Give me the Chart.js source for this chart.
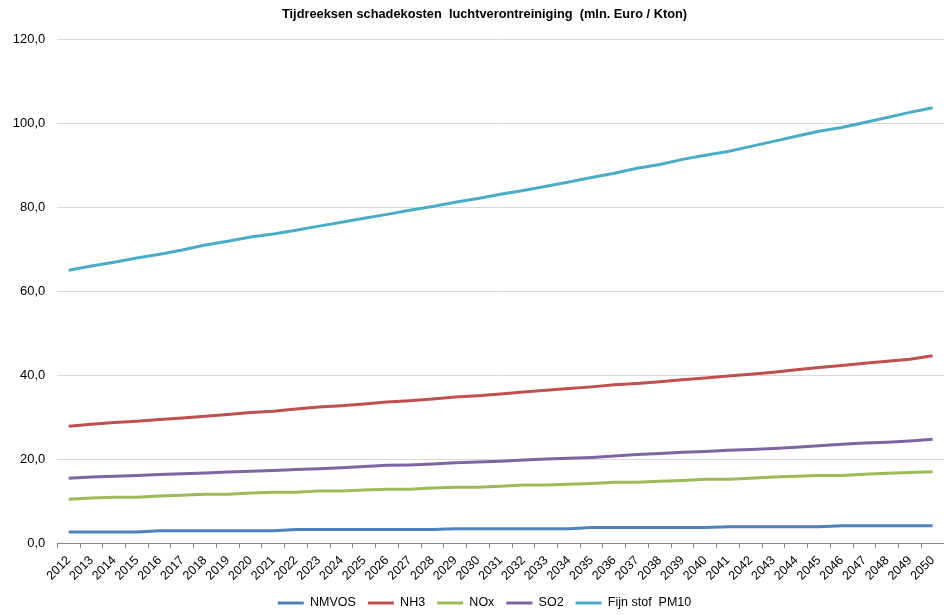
<!DOCTYPE html>
<html>
<head>
<meta charset="utf-8">
<script src="https://cdn.jsdelivr.net/npm/chart.js@4/dist/chart.umd.min.js"></script>
<style>
html,body{margin:0;padding:0;background:#fff;}
#wrap{width:944px;height:615px;position:relative;}
</style>
</head>
<body>
<div id="wrap"><canvas id="c" width="944" height="615"></canvas></div>
<script>
const years = [];
for (let y = 2012; y <= 2050; y++) years.push(String(y));

const nmvos = [2.6,2.6,2.6,2.6,2.9,2.9,2.9,2.9,2.9,2.9,3.2,3.2,3.2,3.2,3.2,3.2,3.2,3.4,3.4,3.4,3.4,3.4,3.4,3.7,3.7,3.7,3.7,3.7,3.7,3.9,3.9,3.9,3.9,3.9,4.1,4.1,4.1,4.1,4.1];
const nh3 = [27.8,28.3,28.7,29.0,29.4,29.8,30.2,30.6,31.1,31.4,31.9,32.4,32.7,33.1,33.6,33.9,34.3,34.8,35.1,35.5,36.0,36.4,36.8,37.2,37.7,38.0,38.4,38.9,39.3,39.8,40.2,40.7,41.3,41.8,42.3,42.8,43.3,43.8,44.6];
const nox = [10.4,10.7,10.9,10.9,11.2,11.4,11.6,11.6,11.9,12.1,12.1,12.4,12.4,12.6,12.8,12.8,13.1,13.3,13.3,13.5,13.8,13.8,14.0,14.2,14.5,14.5,14.7,14.9,15.2,15.2,15.4,15.7,15.9,16.1,16.1,16.4,16.6,16.8,17.0];
const so2 = [15.4,15.7,15.9,16.1,16.3,16.5,16.7,16.9,17.1,17.3,17.5,17.7,17.9,18.2,18.5,18.6,18.8,19.1,19.3,19.5,19.8,20.0,20.2,20.4,20.7,21.1,21.3,21.6,21.8,22.1,22.3,22.5,22.8,23.2,23.5,23.8,24.0,24.3,24.7];
const pm10 = [65.0,66.0,66.9,67.9,68.8,69.8,71.0,71.9,72.9,73.6,74.5,75.5,76.4,77.4,78.3,79.3,80.2,81.2,82.1,83.1,84.0,85.0,86.0,87.1,88.1,89.3,90.2,91.4,92.4,93.3,94.5,95.7,96.9,98.1,99.0,100.2,101.4,102.6,103.7];

const seriesNames = ['NMVOS','NH3','NOx','SO2','Fijn stof  PM10'];
const seriesColors = ['#4F81BD','#C0504D','#9BBB59','#8064A2','#4BACC6'];
const seriesData = [nmvos, nh3, nox, so2, pm10];

const titleText = 'Tijdreeksen schadekosten  luchtverontreiniging  (mln. Euro / Kton)';
const yTicks = [0,20,40,60,80,100,120];

Chart.defaults.font.family = '"Liberation Sans", Arial, sans-serif';
Chart.defaults.font.size = 12.5;
Chart.defaults.color = '#000';

// shift title and legend blocks so their centres sit where the reference centres them
const blockShift = {
  id: 'blockShift',
  afterLayout(chart) {
    if (chart.titleBlock) chart.titleBlock.left = 24;
    if (chart.legend) chart.legend.left = 24;
  }
};

new Chart(document.getElementById('c'), {
  type: 'line',
  data: {
    labels: years,
    datasets: seriesData.map((d, i) => ({
      label: seriesNames[i],
      data: d,
      borderColor: seriesColors[i],
      backgroundColor: seriesColors[i],
      borderWidth: 3,
      pointRadius: 0,
      tension: 0,
      fill: false
    }))
  },
  plugins: [blockShift],
  options: {
    responsive: false,
    animation: false,
    layout: { padding: { left: 0, right: -1, top: 0, bottom: -4.25 } },
    plugins: {
      title: {
        display: true,
        text: titleText,
        font: { size: 12.8, weight: 'bold' },
        color: '#000',
        padding: { top: 7, bottom: 17 }
      },
      legend: {
        position: 'bottom',
        labels: {
          boxWidth: 26,
          boxHeight: 3,
          padding: 12,
          color: '#000',
          font: { size: 12.5 },
          generateLabels: (chart) => Chart.defaults.plugins.legend.labels.generateLabels(chart).map(l => Object.assign(l, { lineWidth: 0 }))
        }
      },
      tooltip: { enabled: false }
    },
    scales: {
      x: {
        offset: true,
        grid: { offset: true, drawOnChartArea: false, drawTicks: true, tickLength: 5, color: '#868686' },
        border: { display: true, color: '#868686', width: 1 },
        ticks: { autoSkip: false, maxRotation: 45, minRotation: 45, padding: 5, color: '#000', font: { size: 12.5 } },
        afterFit: (s) => { s.height = 41.75; s.paddingLeft = 0; s.paddingRight = 0; }
      },
      y: {
        min: 0,
        max: 120,
        afterBuildTicks: (s) => { s.ticks = yTicks.map(v => ({ value: v })); },
        grid: { color: '#D9D9D9', lineWidth: 1, drawTicks: false },
        border: { display: false },
        ticks: { padding: 12, color: '#000', font: { size: 13 }, callback: (v) => v.toFixed(1).replace('.', ',') },
        afterFit: (s) => { s.width = 57.3; }
      }
    }
  }
});
</script>
</body>
</html>
